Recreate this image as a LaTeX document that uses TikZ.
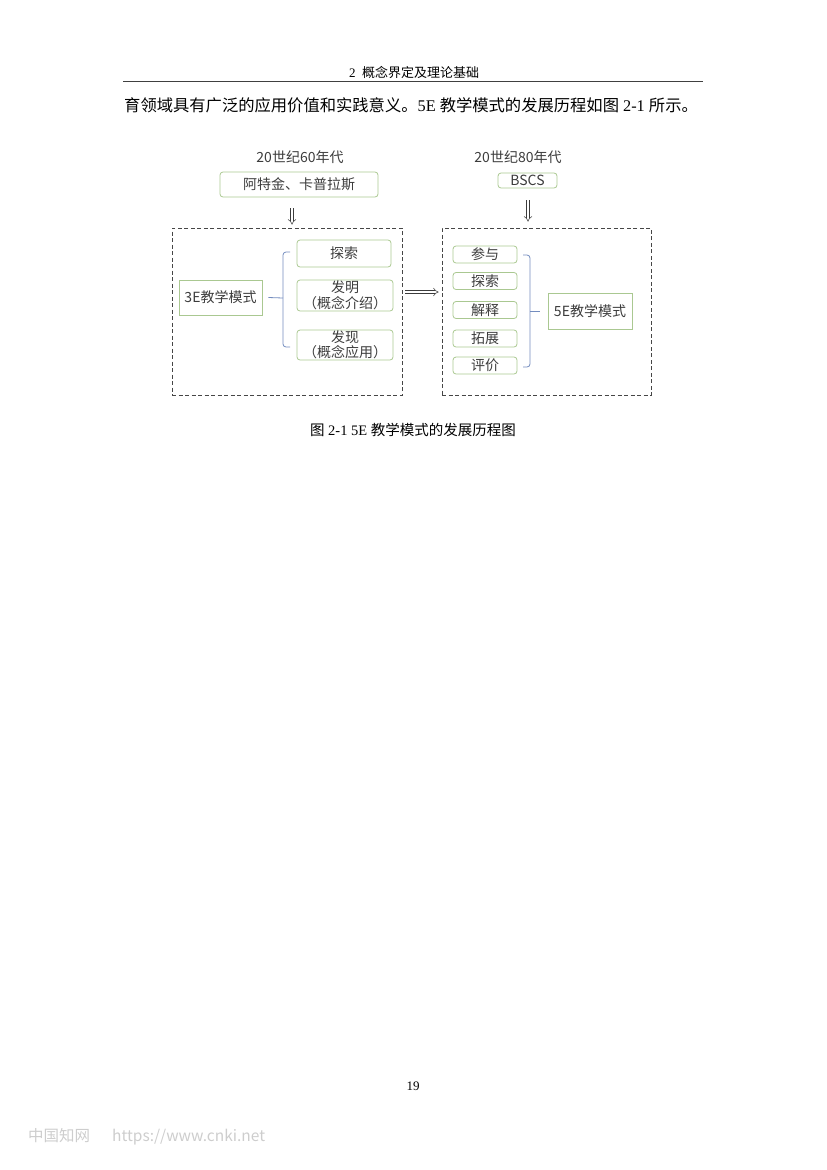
\documentclass[tikz,border=0pt]{standalone}
\usepackage{fontspec}
\setmainfont{Liberation Serif}
\newfontfamily\cjk{Noto Sans CJK SC}
\usetikzlibrary{arrows.meta}
\definecolor{boxgreen}{RGB}{170, 200, 145}
\definecolor{bracketblue}{RGB}{115, 140, 190}
\definecolor{diagtext}{RGB}{60, 60, 60}
\definecolor{framegrey}{RGB}{70, 70, 70}
\definecolor{markgrey}{RGB}{205, 205, 205}
\tikzstyle{stage_label}=[align=center, inner sep=0pt, text=diagtext, font=\cjk\fontsize{14}{15.5}\selectfont]
\tikzstyle{source_box}=[rectangle, draw=boxgreen, line width=0.8pt, rounded corners=3pt, inner sep=0pt,
    text=diagtext, text centered, font=\cjk\fontsize{14}{15.5}\selectfont]
\tikzstyle{phase_box}=[source_box, rounded corners=3pt, align=center]
\tikzstyle{model_box}=[source_box, sharp corners]
\tikzstyle{model_frame}=[rectangle, draw=framegrey, dash pattern=on 4pt off 2.5pt, line width=0.6pt, inner sep=0pt]
\tikzstyle{bracket_line}=[draw=bracketblue, line width=0.8pt, rounded corners=3pt]
\tikzstyle{hollow_arrow}=[draw=diagtext, double, double distance=2.4pt, line width=0.5pt, -{Implies}]

\begin{document}
\begin{tikzpicture}[x=1pt, y=-1pt]
  \useasboundingbox (0,0) rectangle (827,1170);

  % Running head and rule
  \node[inner sep=0pt, font=\fontsize{13}{15}\selectfont] (runhead) at (414,72) {2\ \ {\cjk 概念界定及理论基础}};
  \draw[line width=0.9pt, draw=black!75] (123,81) -- (703,81);

  % Last line of the paragraph before the figure
  \node[inner sep=0pt, anchor=west, font=\fontsize{16.3}{18}\selectfont] (bodyline) at (124,105)
    {{\cjk 育领域具有广泛的应用价值和实践意义。}5E {\cjk 教学模式的发展历程如图} 2-1 {\cjk 所示。}};

  % Left half: the 3E model
  \node[stage_label] (era60) at (300,157) {20世纪60年代};
  \node[source_box, minimum width=158pt, minimum height=25pt] (atkin) at (299,184.5) {阿特金、卡普拉斯};
  \node[model_frame, minimum width=230pt, minimum height=167pt] (frame3e) at (287,311.5) {};
  \node[model_box, minimum width=83pt, minimum height=35pt] (model3e) at (220.5,297.5) {3E教学模式};
  \node[phase_box, minimum width=94pt, minimum height=27pt] (explore3e) at (344,253.5) {探索};
  \node[phase_box, minimum width=96pt, minimum height=31pt] (invent3e) at (345,295.5) {发明\\（概念介绍）};
  \node[phase_box, minimum width=96pt, minimum height=30pt] (discover3e) at (345,345) {发现\\（概念应用）};

  % Bracket from 3E model to its three phases
  \coordinate (brace3e) at (283,298);
  \draw[bracket_line] (290,252) -- (283,252) -- (283,347) -- (290,347);
  \draw[bracket_line] ([xshift=6pt]model3e.east) -- (brace3e);

  % Right half: the 5E model
  \node[stage_label] (era80) at (518,157) {20世纪80年代};
  \node[source_box, minimum width=59pt, minimum height=15pt] (bscs) at (527.5,180.5) {BSCS};
  \node[model_frame, minimum width=209pt, minimum height=167pt] (frame5e) at (546.5,311.5) {};
  \foreach \i/\y/\phase in {1/254.5/参与, 2/281/探索, 3/310/解释, 4/338.5/拓展, 5/365.5/评价} {
      \node[phase_box, minimum width=64pt, minimum height=17pt] (phase\i) at (485,\y) {\phase};
  }
  \node[model_box, minimum width=84pt, minimum height=36pt] (model5e) at (590,311) {5E教学模式};

  % Bracket from the five phases to 5E model
  \coordinate (brace5e) at (530,311);
  \draw[bracket_line] (523,255) -- (530,255) -- (530,367) -- (523,367);
  \draw[bracket_line] (brace5e) -- ([xshift=-8pt]model5e.west);

  % Hollow arrows
  \draw[hollow_arrow, shorten <=11pt, shorten >=3pt] (292,0 |- atkin.south) -- (292,0 |- frame3e.north);
  \draw[hollow_arrow, shorten <=12pt, shorten >=6pt] (528,0 |- bscs.south) -- (528,0 |- frame5e.north);
  \draw[hollow_arrow, shorten <=3pt, shorten >=3pt] (frame3e.east |- 0,292) -- (frame5e.west |- 0,292);

  % Caption
  \node[inner sep=0pt, font=\fontsize{14.5}{16}\selectfont] (caption) at (413,430)
    {{\cjk 图} 2-1 5E {\cjk 教学模式的发展历程图}};

  % Page number and watermark
  \node[inner sep=0pt, font=\fontsize{13}{15}\selectfont] (pagenum) at (413,1086) {19};
  \node[inner sep=0pt, anchor=west, text=markgrey, font=\cjk\fontsize{15.5}{17}\selectfont] (watermark) at (28,1137)
    {中国知网\hspace{22pt}https://www.cnki.net};

\end{tikzpicture}
\end{document}
